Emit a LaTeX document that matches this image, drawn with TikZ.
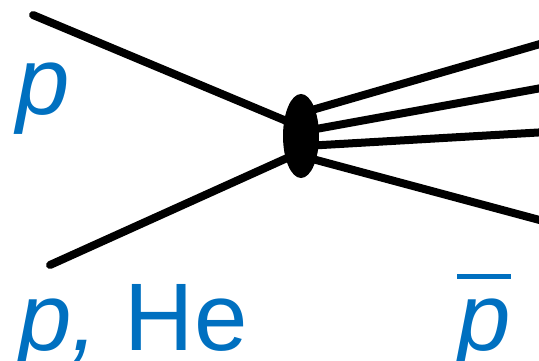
\documentclass[tikz,border=0pt]{standalone}
\usepackage{fontspec}
\setmainfont{Liberation Sans}
\usetikzlibrary{shapes.geometric, calc}
\definecolor{colLabel}{RGB}{0,112,192}
\tikzset{
  % interaction blob
  vertex/.style={
    ellipse, fill=black, draw=none,
    minimum width=36pt, minimum height=84pt, inner sep=0pt,
  },
  % particle lines
  track/.style={line width=8pt, line cap=round, draw=black},
  % particle names
  plabel/.style={
    text=colLabel, font=\fontsize{96}{110}\selectfont,
    inner sep=0pt, anchor=base west,
  },
}
\newcommand{\antip}{\vbox{\hrule height 5pt\kern 19pt\hbox{\itshape p}}}

\begin{document}
\begin{tikzpicture}[x=1pt, y=-1pt]
\useasboundingbox (0,0) rectangle (539,361);

% ── collision vertex ─────────────────────────────────────────────
\node[vertex] (vtx) at (301,136) {};

% ── incoming beam and target ─────────────────────────────────────
\coordinate (inA) at (33,15);
\coordinate (inB) at (50,265);
\draw[track] (inA) -- ($(vtx.center)+(-5,-11)$);
\draw[track] (inB) -- ($(vtx.center)+(-5,18)$);

% ── outgoing secondaries ─────────────────────────────────────────
\foreach \n/\dy/\ey in {1/-24/42, 2/-5/87, 3/10/132, 4/21/222} {
  \coordinate (out\n) at (547,\ey);
  \draw[track] ($(vtx.center)+(4,\dy)$) -- (out\n);
}

% ── labels ───────────────────────────────────────────────────────
\node[plabel] (beam)   at (16,115)  {\itshape p};
\node[plabel] (target) at (18,350)  {{\itshape p,} He};
\node[plabel] (pbar)   at (457,350) {\antip};

\end{tikzpicture}
\end{document}
